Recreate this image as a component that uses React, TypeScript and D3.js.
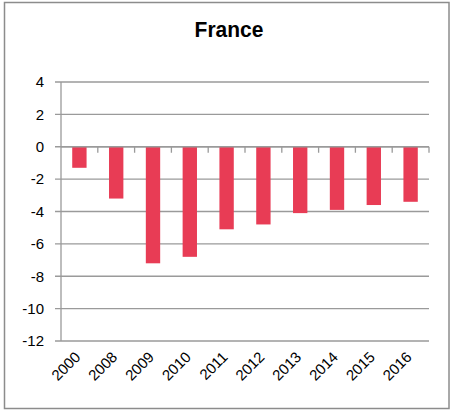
import React from "react";
import * as d3 from "d3";

const years = ["2000", "2008", "2009", "2010", "2011", "2012", "2013", "2014", "2015", "2016"];
const values = [-1.3, -3.2, -7.2, -6.8, -5.1, -4.8, -4.1, -3.9, -3.6, -3.4];
const yTicks = [4, 2, 0, -2, -4, -6, -8, -10, -12];
const title = "France";

const W = 451;
const H = 413;
const left = 61;
const right = 429;
const top = 82;
const bottom = 341;
const font = "'Liberation Sans Narrow', 'Arial Narrow', 'Liberation Sans', Arial, sans-serif";

export default function App() {
  const x = d3.scaleBand<string>().domain(years).range([left, right]).paddingInner(0.61).paddingOuter(0.305);
  const xb = d3.scaleBand<string>().domain(years).range([left, right]);
  const y = d3.scaleLinear().domain([-12, 4]).range([bottom, top]);
  const grid = "#9a9a9a";
  return (
    <svg width={W} height={H} style={{ position: "absolute", left: 0, top: 0 }}>
      <rect x={0} y={0} width={W} height={H} fill="#fff" />
      <rect x={4.5} y={2.5} width={444.5} height={406} fill="#fff" stroke="#8c8c8c" strokeWidth={1.5} />
      <text x={229} y={37} textAnchor="middle" fontFamily={font} fontWeight="bold" fontSize={21} fill="#000"
        transform="translate(229 37) scale(1 1.08) translate(-229 -37)">
        {title}
      </text>
      {yTicks.map((t) => (
        <g key={t}>
          <line x1={55} x2={right} y1={y(t)} y2={y(t)} stroke={grid} strokeWidth={1.3} />
          <text x={44} y={y(t)} dy="0.35em" textAnchor="end" fontFamily={font} fontSize={15} fill="#000">
            {t}
          </text>
        </g>
      ))}
      <line x1={left} x2={left} y1={top} y2={bottom} stroke={grid} strokeWidth={1.3} />
      {years.map((yr, i) => (
        <line key={"t" + yr} x1={(xb(yr) as number) + xb.bandwidth()} x2={(xb(yr) as number) + xb.bandwidth()} y1={y(0)} y2={y(0) + 6} stroke={grid} strokeWidth={1.3} />
      ))}
      {years.map((yr, i) => (
        <rect key={"b" + yr} x={x(yr)} y={y(0)} width={x.bandwidth()} height={y(values[i]) - y(0)} fill="#e83c55" />
      ))}
      <line x1={left} x2={right} y1={y(0)} y2={y(0)} stroke={grid} strokeWidth={1.3} />
      {years.map((yr) => {
        const cx = (xb(yr) as number) + xb.bandwidth() / 2 + 2;
        const cy = 358;
        return (
          <text key={"l" + yr} x={cx} y={cy} textAnchor="end" fontFamily={font} fontSize={15} fill="#000" transform={`rotate(-45 ${cx} ${cy})`}>
            {yr}
          </text>
        );
      })}
    </svg>
  );
}
